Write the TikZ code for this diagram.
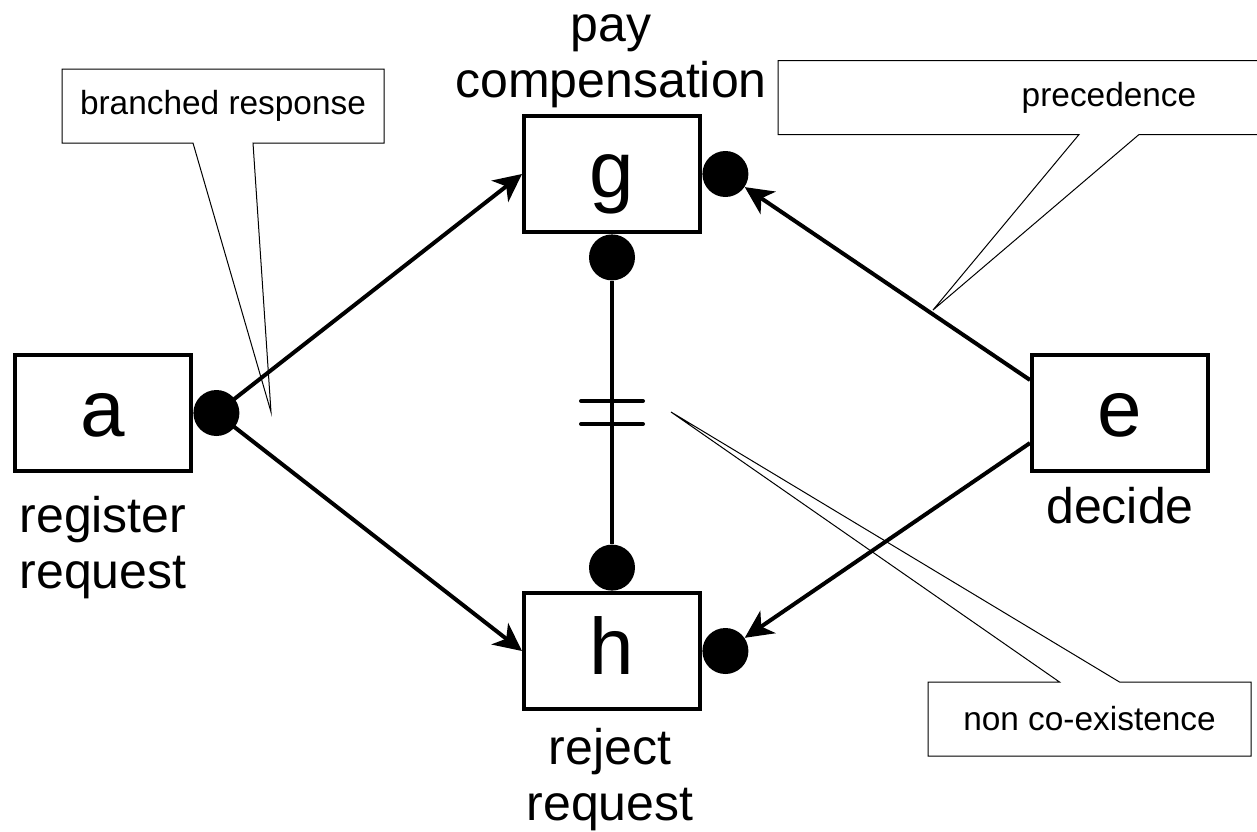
\documentclass[tikz,border=0pt]{standalone}
\usepackage{fontspec}
\setmainfont{Liberation Sans}
\usetikzlibrary{arrows.meta,positioning,calc,backgrounds}

\tikzset{
    activity/.style={draw, line width=2pt, minimum width=88pt, minimum height=58pt,
        inner sep=0pt, font=\fontsize{40}{40}\selectfont, text height=23.5pt, text depth=0pt},
    dot/.style={circle, fill=black, minimum size=23pt, inner sep=0pt},
    caption/.style={font=\fontsize{25}{28}\selectfont, align=center, anchor=base},
    note/.style={rectangle, inner sep=0pt, outer sep=0pt, minimum height=37pt,
        font=\fontsize{16.7}{20}\selectfont},
    noteline/.style={draw, line width=0.5pt, fill=white},
    flow/.style={line width=2pt, -{Stealth[length=14pt,width=13.5pt,inset=4pt]}},
    link/.style={line width=2pt},
}

\begin{document}
\begin{tikzpicture}[x=0.5pt,y=-0.5pt]
    \useasboundingbox (0,0) rectangle (1257,831);
    % Callouts
    \node[note, minimum width=161pt] (brNote) at (223,106) {branched response};
    \node[note, minimum width=331pt] (prNote) at (1109,97.5) {precedence};
    \node[note, minimum width=161.5pt] (ncNote) at (1089.5,719) {non co-existence};
    \coordinate (brTip) at (271,412);
    \coordinate (prTip) at (933,310);
    \coordinate (ncTip) at (671,412);
    \begin{scope}[on background layer]
    \draw[noteline] (brNote.north west) -- (brNote.north east) -- (brNote.south east)
        -- ([xshift=15pt]brNote.south) -- (brTip) -- ([xshift=-15pt]brNote.south)
        -- (brNote.south west) -- cycle;
    \draw[noteline] (prNote.north west) -- (prNote.north east) -- (prNote.south east)
        -- ([xshift=15pt]prNote.south) -- (prTip) -- ([xshift=-15pt]prNote.south)
        -- (prNote.south west) -- cycle;
    \draw[noteline] (ncNote.north west) -- ([xshift=-15pt]ncNote.north) -- (ncTip)
        -- ([xshift=15pt]ncNote.north) -- (ncNote.north east) -- (ncNote.south east)
        -- (ncNote.south west) -- cycle;
    \end{scope}
    % Activities
    \node[activity] (a) at (103,413) {a};
    \node[activity] (g) at (612,174) {g};
    \node[activity] (h) at (612,651) {h};
    \node[activity] (e) at (1120,413) {e};
    % Activity names
    \node[caption] (aName) at (103,588) {register\\request};
    \node[caption] (gName) at (611,97) {pay\\compensation};
    \node[caption] (hName) at (610,820) {reject\\request};
    \node[caption] (eName) at (1120,523) {decide};
    % Dots
    \node[dot, anchor=west] (adot) at (a.east) {};
    \node[dot, anchor=west] (gdot) at (g.east) {};
    \node[dot, anchor=north] (gsdot) at (g.south) {};
    \node[dot, anchor=south] (hndot) at (h.north) {};
    \node[dot, anchor=west] (hdot) at (h.east) {};
    % Constraints
    \draw[flow] (adot.center) -- (g.west);
    \draw[flow] (adot.center) -- (h.west);
    \draw[flow] ([yshift=16.5pt]e.west) -- (gdot);
    \draw[flow] ([yshift=-15pt]e.west) -- (hdot);
    \draw[link] (gsdot) -- (hndot);
    \coordinate (mid) at ($(gsdot)!0.5!(hndot)$);
    \draw[link, line cap=round] ([shift={(-31,-11.5)}]mid) -- ([shift={(31,-11.5)}]mid);
    \draw[link, line cap=round] ([shift={(-31,11.5)}]mid) -- ([shift={(31,11.5)}]mid);
\end{tikzpicture}
\end{document}
